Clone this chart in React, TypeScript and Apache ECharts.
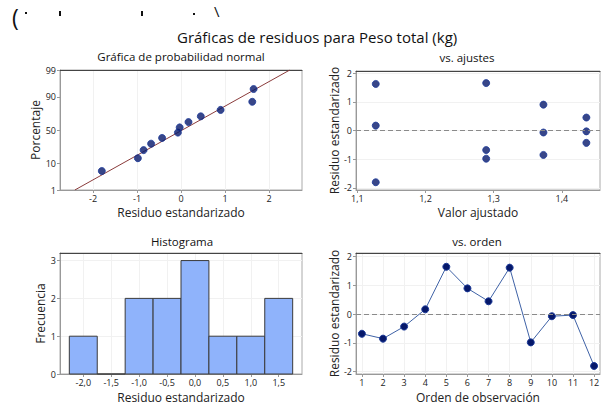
import { useEffect, useRef } from "react";
import * as echarts from "echarts";

// ---- data ----
const ORDER = [1, 2, 3, 4, 5, 6, 7, 8, 9, 10, 11, 12];
const RESIDUALS = [-0.68, -0.85, -0.43, 0.17, 1.65, 0.9, 0.45, 1.62, -0.98, -0.07, -0.03, -1.8];
const FITTED = [1.289, 1.373, 1.436, 1.127, 1.289, 1.373, 1.436, 1.127, 1.289, 1.373, 1.436, 1.127];
const PROB_PCT = [5.6, 13.7, 21.8, 29.8, 37.9, 46.0, 54.0, 62.1, 70.2, 78.2, 86.3, 94.4];
const PROB_TICKS = [1, 10, 50, 90, 99];
const FIT_MEAN = 0.03;
const FIT_SD = 1.05;
const HIST_CENTERS = [-2, -1.5, -1, -0.5, 0, 0.5, 1, 1.5];
const HIST_COUNTS = [1, 0, 2, 2, 3, 1, 1, 2];
const HIST_WIDTH = 0.5;
const NORM_X_TICKS = [-2, -1, 0, 1, 2];
const FIT_TICKS = [1.1, 1.2, 1.3, 1.4];
const RES_TICKS = [-2, -1, 0, 1, 2];
const FREQ_TICKS = [0, 1, 2, 3];

const FONT = "'Open Sans', 'Noto Sans', sans-serif";
const POINT_FILL = "#06186a";
const POINT_BORDER = "#1c3a98";

// inverse standard normal (Acklam)
function invNorm(p: number): number {
  const a = [-39.6968302866538, 220.946098424521, -275.928510446969, 138.357751867269, -30.6647980661472, 2.50662827745924];
  const b = [-54.4760987982241, 161.585836858041, -155.698979859887, 66.8013118877197, -13.2806815528857];
  const c = [-0.00778489400243029, -0.322396458041136, -2.40075827716184, -2.54973253934373, 4.37466414146497, 2.93816398269878];
  const d = [0.00778469570904146, 0.32246712907004, 2.445134137143, 3.75440866190742];
  const pl = 0.02425;
  if (p < pl) {
    const q = Math.sqrt(-2 * Math.log(p));
    return (((((c[0] * q + c[1]) * q + c[2]) * q + c[3]) * q + c[4]) * q + c[5]) / ((((d[0] * q + d[1]) * q + d[2]) * q + d[3]) * q + 1);
  }
  if (p > 1 - pl) {
    const q = Math.sqrt(-2 * Math.log(1 - p));
    return -(((((c[0] * q + c[1]) * q + c[2]) * q + c[3]) * q + c[4]) * q + c[5]) / ((((d[0] * q + d[1]) * q + d[2]) * q + d[3]) * q + 1);
  }
  const q = p - 0.5;
  const r = q * q;
  return ((((((a[0] * r + a[1]) * r + a[2]) * r + a[3]) * r + a[4]) * r + a[5]) * q) / (((((b[0] * r + b[1]) * r + b[2]) * r + b[3]) * r + b[4]) * r + 1);
}

const comma1 = (v: number) => v.toFixed(1).replace(".", ",");

function valueAxis(o: {
  gridIndex: number; min: number; max: number; ticks: number[];
  fmt?: (v: number) => string; name?: string; nameGap?: number; split?: boolean;
}) {
  return {
    type: "value",
    gridIndex: o.gridIndex,
    min: o.min,
    max: o.max,
    name: o.name,
    nameLocation: "middle",
    nameGap: o.nameGap,
    nameTextStyle: { fontSize: 12, color: "#222", fontFamily: FONT },
    axisLine: { show: true, onZero: false, lineStyle: { color: "#999", width: 1 } },
    axisTick: { show: true, customValues: o.ticks, length: 3, lineStyle: { color: "#999" } },
    axisLabel: {
      customValues: o.ticks,
      formatter: o.fmt ?? ((v: number) => String(v)),
      fontSize: 9,
      color: "#222",
      fontFamily: FONT,
      margin: 4,
    },
    splitLine: { show: o.split ?? true, lineStyle: { color: "#f1f1f1", width: 1 } },
  };
}

function topAxis(gridIndex: number, min: number, max: number) {
  return {
    type: "value", gridIndex, position: "top", min, max,
    axisLine: { show: true, onZero: false, lineStyle: { color: "#444", width: 1 } },
    axisTick: { show: false }, axisLabel: { show: false }, splitLine: { show: false },
  };
}

export default function App() {
  const ref = useRef<HTMLDivElement>(null);

  useEffect(() => {
    if (!ref.current) return;
    const chart = echarts.init(ref.current, undefined, { renderer: "svg" });

    const zLo = invNorm(PROB_TICKS[0] / 100);
    const zHi = invNorm(PROB_TICKS[PROB_TICKS.length - 1] / 100);
    const zTicks = PROB_TICKS.map((p) => invNorm(p / 100));
    const sorted = [...RESIDUALS].sort((a, b) => a - b);
    const normPts = sorted.map((r, i) => [r, invNorm(PROB_PCT[i] / 100)]);
    const fitLine = [
      [FIT_MEAN + FIT_SD * zLo, zLo],
      [FIT_MEAN + FIT_SD * zHi, zHi],
    ];
    const probFmt = (v: number) => {
      let best = 0;
      zTicks.forEach((z, i) => { if (Math.abs(z - v) < Math.abs(zTicks[best] - v)) best = i; });
      return String(PROB_TICKS[best]);
    };

    const gridStyle = { show: true, borderColor: "#aaa", borderWidth: 1, backgroundColor: "#fff" };
    const zeroLine = {
      silent: true, symbol: "none", label: { show: false },
      lineStyle: { color: "#8a8a8a", type: [5, 3], width: 1 },
      data: [{ yAxis: 0 }],
    };
    const pointStyle = { color: POINT_FILL, borderColor: POINT_BORDER, borderWidth: 1 };

    const titleText = (text: string, x: number, y: number, size: number, align = "center") => ({
      type: "text", x, y,
      style: { text, fontSize: size, fontFamily: FONT, fill: "#111", align, verticalAlign: "middle" },
    });

    chart.setOption({
      animation: false,
      backgroundColor: "#fff",
      grid: [
        { left: 60, top: 70, width: 242, height: 120, ...gridStyle },
        { left: 356, top: 71, width: 244, height: 119, ...gridStyle },
        { left: 60, top: 253, width: 242, height: 122, ...gridStyle },
        { left: 356, top: 253, width: 244, height: 122, ...gridStyle },
      ],
      xAxis: [
        valueAxis({ gridIndex: 0, min: -2.75, max: 2.75, ticks: NORM_X_TICKS, name: "Residuo estandarizado", nameGap: 16 }),
        valueAxis({ gridIndex: 1, min: 1.098, max: 1.456, ticks: FIT_TICKS, fmt: comma1, name: "Valor ajustado", nameGap: 16, split: false }),
        valueAxis({ gridIndex: 2, min: -2.417, max: 1.917, ticks: HIST_CENTERS, fmt: comma1, name: "Residuo estandarizado", nameGap: 17 }),
        valueAxis({ gridIndex: 3, min: 0.72, max: 12.28, ticks: ORDER, name: "Orden de observación", nameGap: 17 }),
        topAxis(0, -2.75, 2.75),
        topAxis(1, 1.098, 1.456),
        topAxis(2, -2.417, 1.917),
        topAxis(3, 0.72, 12.28),
      ],
      yAxis: [
        valueAxis({ gridIndex: 0, min: zLo, max: zHi, ticks: zTicks, fmt: probFmt, name: "Porcentaje", nameGap: 17, split: false }),
        valueAxis({ gridIndex: 1, min: -2.07, max: 2.07, ticks: RES_TICKS, name: "Residuo estandarizado", nameGap: 14 }),
        valueAxis({ gridIndex: 2, min: 0, max: 3.2, ticks: FREQ_TICKS, name: "Frecuencia", nameGap: 13 }),
        valueAxis({ gridIndex: 3, min: -2.08, max: 2.13, ticks: RES_TICKS, name: "Residuo estandarizado", nameGap: 14 }),
      ],
      series: [
        {
          type: "line", xAxisIndex: 0, yAxisIndex: 0, data: fitLine, symbol: "none",
          lineStyle: { color: "#8a3b3b", width: 1 }, z: 2,
        },
        {
          type: "scatter", xAxisIndex: 0, yAxisIndex: 0, data: normPts, symbolSize: 7,
          itemStyle: pointStyle, z: 3,
        },
        {
          type: "scatter", xAxisIndex: 1, yAxisIndex: 1, symbolSize: 7, itemStyle: pointStyle, z: 3,
          data: FITTED.map((f, i) => [f, RESIDUALS[i]]),
          markLine: zeroLine,
        },
        {
          type: "custom", xAxisIndex: 2, yAxisIndex: 2,
          data: HIST_CENTERS.map((c, i) => [c, HIST_COUNTS[i]]),
          encode: { x: 0, y: 1 },
          renderItem: (_p: any, api: any) => {
            const c = api.value(0);
            const n = api.value(1);
            const p0 = api.coord([c - HIST_WIDTH / 2, n]);
            const p1 = api.coord([c + HIST_WIDTH / 2, 0]);
            return {
              type: "rect",
              shape: { x: p0[0], y: p0[1], width: p1[0] - p0[0], height: p1[1] - p0[1] },
              style: { fill: "#8fb3fb", stroke: "#3a3a3a", lineWidth: 1 },
            };
          },
        },
        {
          type: "line", xAxisIndex: 3, yAxisIndex: 3,
          data: ORDER.map((o, i) => [o, RESIDUALS[i]]),
          symbol: "circle", symbolSize: 7, showSymbol: true,
          lineStyle: { color: "#3f62a6", width: 1 },
          itemStyle: pointStyle, z: 3,
          markLine: zeroLine,
        },
      ],
      graphic: [
        { type: "text", x: 12, y: 5, style: { text: "(", fontSize: 23, fontFamily: FONT, fill: "#111" } },
        { type: "rect", shape: { x: 25, y: 12, width: 2, height: 2 }, style: { fill: "#111" } },
        { type: "rect", shape: { x: 59, y: 11, width: 2, height: 5 }, style: { fill: "#111" } },
        { type: "rect", shape: { x: 141, y: 11, width: 2, height: 5 }, style: { fill: "#111" } },
        { type: "rect", shape: { x: 193, y: 13, width: 2, height: 2 }, style: { fill: "#111" } },
        { type: "text", x: 214, y: 3, style: { text: "\\", fontSize: 15, fontFamily: FONT, fill: "#111" } },
        titleText("Gráficas de residuos para Peso total (kg)", 177, 37, 15, "left"),
        titleText("Gráfica de probabilidad normal", 181, 56, 11.5),
        titleText("vs. ajustes", 467, 57, 11.5),
        titleText("Histograma", 182, 241, 11.5),
        titleText("vs. orden", 477, 241, 11.5),
      ],
    });

    return () => chart.dispose();
  }, []);

  return (
    <div
      ref={ref}
      style={{ position: "fixed", left: 0, top: 0, width: 609, height: 404, background: "#fff" }}
    />
  );
}
